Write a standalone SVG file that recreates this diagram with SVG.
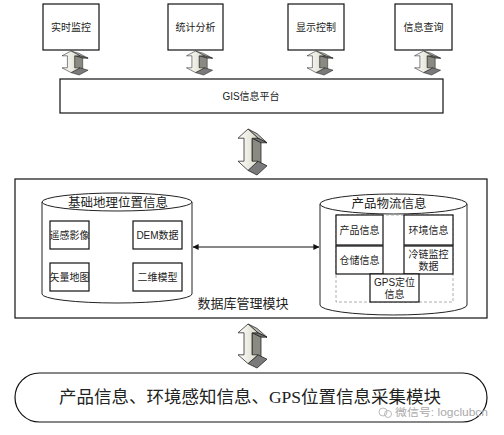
<svg xmlns="http://www.w3.org/2000/svg" width="504" height="435" viewBox="0 0 504 435">
<style>
.box{fill:#fff;stroke:#111;stroke-width:1.2}
.t{font-family:"Liberation Sans","Noto Sans CJK SC",sans-serif;fill:#222;text-anchor:middle}
.s10{font-size:10px}
.s12{font-size:12.5px}
.s13{font-size:13px}
.big{font-family:"Liberation Serif","Noto Sans CJK SC",serif;font-size:17.5px;fill:#222;text-anchor:middle}
.cyl{fill:#fff;stroke:#222;stroke-width:1}
.face{stroke:#222;stroke-width:0.8;stroke-linejoin:round}
.wm{font-family:"Liberation Sans","Noto Sans CJK SC",sans-serif;font-size:10px;fill:#aaa}
</style>
<defs>
<linearGradient id="fg" x1="0" y1="0" x2="1" y2="0">
<stop offset="0" stop-color="#ffffff"/>
<stop offset="1" stop-color="#d9d9c8"/>
</linearGradient>
<g id="arr3d">
<polygon class="face" points="10,0 20,10 29,15 19,5" fill="#b8b8b0"/>
<polygon class="face" points="20,10 14,10 23,15 29,15" fill="#6e6e6e"/>
<polygon class="face" points="14,10 14,35 23,40 23,15" fill="#8a8a82"/>
<polygon class="face" points="20,35 10,45 19,50 29,40" fill="#7a7a7a"/>
<polygon class="face" points="10,0 20,10 14,10 14,35 20,35 10,45 0,35 6,35 6,10 0,10" fill="url(#fg)"/>
</g>
<marker id="ah" viewBox="0 0 8 8" refX="7.5" refY="4" markerWidth="6" markerHeight="6" orient="auto-start-reverse" markerUnits="userSpaceOnUse">
<path d="M0,0 L8,4 L0,8 z" fill="#111"/>
</marker>
</defs>

<g id="n-realtime"><rect class="box" x="43" y="4" width="56" height="46"/><text class="t s10" x="71" y="31">实时监控</text></g>
<g id="n-stats"><rect class="box" x="168" y="4" width="55" height="46"/><text class="t s10" x="195.5" y="31">统计分析</text></g>
<g id="n-display"><rect class="box" x="288" y="4" width="56" height="46"/><text class="t s10" x="316" y="31">显示控制</text></g>
<g id="n-query"><rect class="box" x="395" y="4" width="57" height="46"/><text class="t s10" x="423.5" y="31">信息查询</text></g>

<g id="n-gis"><rect class="box" x="60" y="79" width="383" height="34"/><text class="t s10" x="251" y="100">GIS信息平台</text></g>

<g id="n-db">
<rect class="box" x="15" y="179" width="472" height="139"/>
<text class="t s13" x="243" y="308">数据库管理模块</text>
</g>

<g id="n-basegeo">
<path class="cyl" d="M42,202 L42,294 A75,9 0 0 0 192,294 L192,202"/>
<ellipse class="cyl" cx="117" cy="202" rx="75" ry="9"/>
<text class="t s12" x="118" y="207">基础地理位置信息</text>
<rect class="box" x="50" y="221" width="39" height="28"/><text class="t s10" x="69.5" y="239">遥感影像</text>
<rect class="box" x="133" y="221" width="49" height="28"/><text class="t s10" x="157.5" y="239">DEM数据</text>
<rect class="box" x="50" y="263" width="39" height="28"/><text class="t s10" x="69.5" y="281">矢量地图</text>
<rect class="box" x="133" y="263" width="49" height="28"/><text class="t s10" x="157.5" y="281">二维模型</text>
</g>

<g id="n-logistics">
<path class="cyl" d="M320,204 L320,305 A73.5,10 0 0 0 467,305 L467,204"/>
<ellipse class="cyl" cx="393.5" cy="204" rx="73.5" ry="10"/>
<text class="t s12" x="389" y="208">产品物流信息</text>
<rect x="336" y="215" width="117" height="87" fill="none" stroke="#999" stroke-width="0.8" stroke-dasharray="3,2"/>
<rect class="box" x="336" y="215" width="47" height="30"/><text class="t s10" x="359.5" y="234">产品信息</text>
<rect class="box" x="336" y="246" width="47" height="28"/><text class="t s10" x="359.5" y="264">仓储信息</text>
<rect class="box" x="404" y="215" width="49" height="30"/><text class="t s10" x="428.5" y="234">环境信息</text>
<rect class="box" x="404" y="246" width="49" height="28"/><text class="t s10" x="428.5" y="258">冷链监控</text><text class="t s10" x="428.5" y="270">数据</text>
<rect class="box" x="370" y="274" width="49" height="28"/><text class="t s10" x="394.5" y="286">GPS定位</text><text class="t s10" x="394.5" y="298">信息</text>
</g>

<g id="n-collect">
<rect class="box" x="15" y="373" width="472" height="49" rx="24.5" ry="24.5"/>
<text class="big" x="250" y="403">产品信息、环境感知信息、GPS位置信息采集模块</text>
</g>

<g id="connectors">
<use href="#arr3d" transform="translate(62,51) scale(0.9,0.48)"/>
<use href="#arr3d" transform="translate(186.5,51) scale(0.9,0.48)"/>
<use href="#arr3d" transform="translate(307,51) scale(0.9,0.48)"/>
<use href="#arr3d" transform="translate(414.5,51) scale(0.9,0.48)"/>
<use href="#arr3d" transform="translate(238,129) scale(1,0.92)"/>
<use href="#arr3d" transform="translate(238,324) scale(1,0.88)"/>
<line x1="193" y1="247" x2="319" y2="247" stroke="#111" stroke-width="1" marker-start="url(#ah)" marker-end="url(#ah)"/>
</g>

<g id="watermark">
<circle cx="383" cy="412" r="4" fill="none" stroke="#bbb" stroke-width="1"/>
<circle cx="388" cy="414" r="3.5" fill="none" stroke="#bbb" stroke-width="1"/>
<text class="wm" x="395" y="416" textLength="93" lengthAdjust="spacingAndGlyphs">微信号: logclubcn</text>
</g>
</svg>
